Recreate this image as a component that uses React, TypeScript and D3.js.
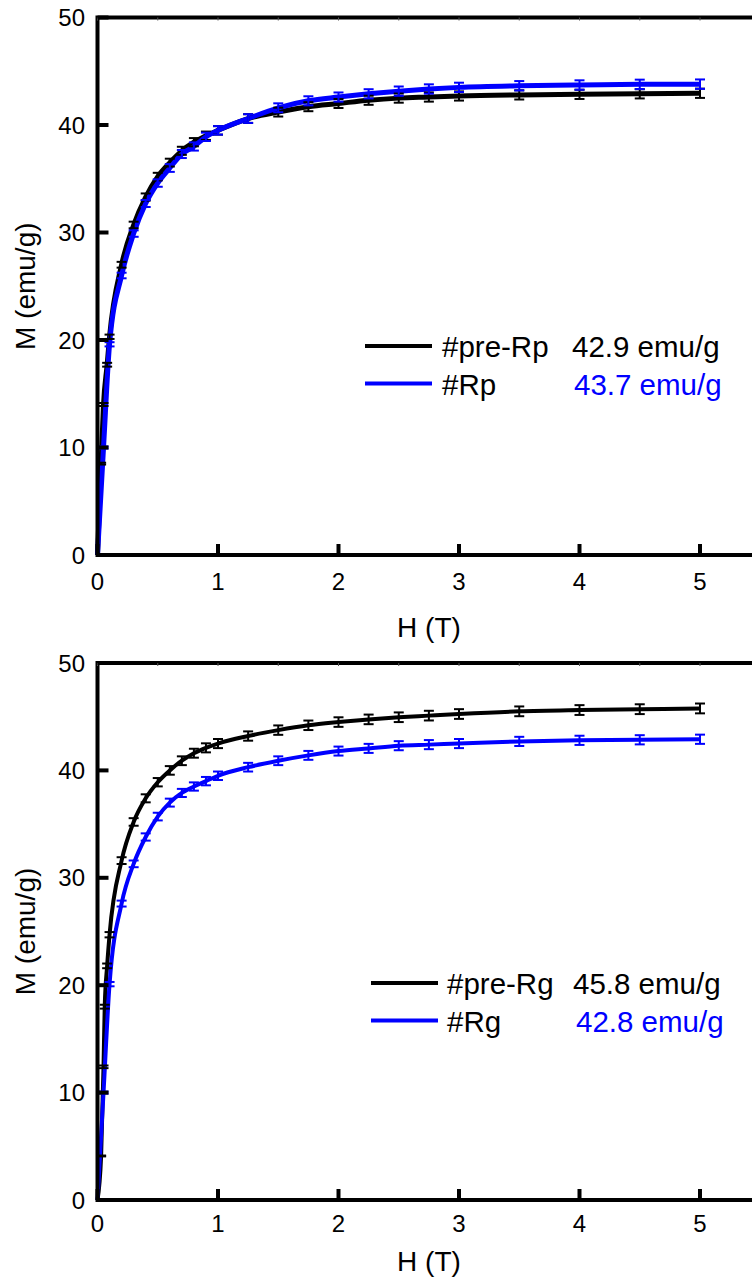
import React from 'react'
import * as d3 from 'd3'

// field (T) and magnetisation (emu/g)
const hPreRp = [0, 0.03, 0.05, 0.08, 0.1, 0.2, 0.3, 0.4, 0.5, 0.6, 0.7, 0.8, 0.9, 1.0, 1.25, 1.5, 1.75, 2.0, 2.25, 2.5, 2.75, 3.0, 3.5, 4.0, 4.5, 5.0]
const mPreRp = [0, 8.5, 14.0, 17.7, 20.3, 27.0, 30.7, 33.3, 35.2, 36.5, 37.6, 38.4, 39.0, 39.5, 40.6, 41.2, 41.7, 42.0, 42.3, 42.5, 42.6, 42.7, 42.8, 42.85, 42.9, 42.95]

const hRp = [0, 0.05, 0.1, 0.2, 0.3, 0.4, 0.5, 0.6, 0.7, 0.8, 0.9, 1.0, 1.25, 1.5, 1.75, 2.0, 2.25, 2.5, 2.75, 3.0, 3.5, 4.0, 4.5, 5.0]
const mRp = [0, 10.0, 19.6, 26.0, 29.9, 32.7, 34.6, 36.0, 37.3, 38.0, 38.9, 39.5, 40.6, 41.6, 42.25, 42.6, 42.9, 43.15, 43.35, 43.5, 43.65, 43.72, 43.78, 43.8]

const hPreRg = [0, 0.03, 0.05, 0.06, 0.08, 0.1, 0.2, 0.3, 0.4, 0.5, 0.6, 0.7, 0.8, 0.9, 1.0, 1.25, 1.5, 1.75, 2.0, 2.25, 2.5, 2.75, 3.0, 3.5, 4.0, 4.5, 5.0]
const mPreRg = [0, 4.1, 12.4, 18.0, 21.8, 24.7, 31.6, 35.2, 37.4, 38.9, 40.0, 40.9, 41.6, 42.1, 42.5, 43.2, 43.75, 44.2, 44.5, 44.75, 44.95, 45.1, 45.25, 45.5, 45.62, 45.7, 45.77]

const hRg = [0, 0.05, 0.1, 0.2, 0.3, 0.4, 0.5, 0.6, 0.7, 0.8, 0.9, 1.0, 1.25, 1.5, 1.75, 2.0, 2.25, 2.5, 2.75, 3.0, 3.5, 4.0, 4.5, 5.0]
const mRg = [0, 10.0, 20.1, 27.6, 31.3, 33.8, 35.7, 37.0, 37.9, 38.5, 39.0, 39.5, 40.3, 40.9, 41.4, 41.8, 42.05, 42.3, 42.4, 42.5, 42.7, 42.8, 42.85, 42.9]

const xTicks = [0, 1, 2, 3, 4, 5]
const xMinor = [0.5, 1.5, 2.5, 3.5, 4.5, 5.5]
const yTicks = [0, 10, 20, 30, 40, 50]
const errFrac = 0.01

const font = '"Liberation Sans", Arial, sans-serif'
const BLUE = '#0000ff'

type Series = { h: number[], m: number[], color: string, name: string, value: string }

type PanelProps = {
  top: number,
  bottom: number,
  series: Series[],
  lineWidth: number,
  legend: { x: number, y: number, nameX: number, valueX: number[] },
  tickY: number,
  titleY: number
}

function Panel({ top, bottom, series, lineWidth, legend, tickY, titleY }: PanelProps) {
  const x = d3.scaleLinear().domain([0, 5.5]).range([97.5, 97.5 + 5.5 * 120.5])
  const y = d3.scaleLinear().domain([0, 50]).range([bottom, top])

  const [x0, x1] = x.range()
  return (
    <g>
      {series.map((s) => {
        const path = d3.line<number>()
          .x((_, i) => x(s.h[i]))
          .y((d) => y(d))
          .curve(d3.curveMonotoneX)(s.m)
        return <path key={s.name} d={path || ''} fill="none" stroke={s.color} strokeWidth={lineWidth} strokeLinejoin="round" />
      })}
      {series.map((s) => (
        <g key={s.name + '-err'} stroke={s.color} strokeWidth={2}>
          {s.m.map((m, i) => {
            if (m === 0) return null
            const cx = x(s.h[i])
            const e = m * errFrac
            const yt = y(m + e), yb = y(m - e)
            return (
              <g key={i}>
                <line x1={cx} x2={cx} y1={yt} y2={yb} />
                <line x1={cx - 5} x2={cx + 5} y1={yt} y2={yt} />
                <line x1={cx - 5} x2={cx + 5} y1={yb} y2={yb} />
              </g>
            )
          })}
        </g>
      ))}
      {/* frame, right edge falls outside the page */}
      <rect x={x0} y={top} width={x1 - x0} height={bottom - top} fill="none" stroke="#000" strokeWidth={4} />
      {xTicks.map((t) => (
        <line key={'xt' + t} x1={x(t)} x2={x(t)} y1={bottom} y2={bottom - 11} stroke="#000" strokeWidth={4} />
      ))}
      {xTicks.concat(xMinor).map((t) => (
        <line key={'xtt' + t} x1={x(t)} x2={x(t)} y1={top} y2={top + 3} stroke="#555" strokeWidth={1} />
      ))}
      {yTicks.map((t) => (
        <line key={'yt' + t} x1={x0} x2={x0 + 11} y1={y(t)} y2={y(t)} stroke="#000" strokeWidth={4} />
      ))}
      <g fontFamily={font} fontSize={24} fill="#000">
        {xTicks.map((t) => (
          <text key={'xl' + t} x={x(t)} y={tickY} textAnchor="middle">{t}</text>
        ))}
        {yTicks.map((t) => (
          <text key={'yl' + t} x={85} y={y(t)} dy="0.36em" textAnchor="end">{t}</text>
        ))}
      </g>
      <g fontFamily={font} fontSize={28} fill="#000">
        <text x={429} y={titleY} textAnchor="middle">H (T)</text>
        <text transform={`translate(35,${(top + bottom) / 2}) rotate(-90)`} textAnchor="middle">M (emu/g)</text>
      </g>
      <g fontFamily={font} fontSize={29.5}>
        {series.map((s, i) => {
          const ly = legend.y + i * 37.5
          return (
            <g key={s.name + '-leg'}>
              <line x1={legend.x} x2={legend.x + 67} y1={ly} y2={ly} stroke={s.color} strokeWidth={4} />
              <text x={legend.nameX} y={ly + 11} fill="#000">{s.name}</text>
              <text x={legend.valueX[i]} y={ly + 11} fill={s.color}>{s.value}</text>
            </g>
          )
        })}
      </g>
    </g>
  )
}

export default function App() {
  const topSeries: Series[] = [
    { h: hPreRp, m: mPreRp, color: '#000', name: '#pre-Rp', value: '42.9 emu/g' },
    { h: hRp, m: mRp, color: BLUE, name: '#Rp', value: '43.7 emu/g' }
  ]
  const bottomSeries: Series[] = [
    { h: hPreRg, m: mPreRg, color: '#000', name: '#pre-Rg', value: '45.8 emu/g' },
    { h: hRg, m: mRg, color: BLUE, name: '#Rg', value: '42.8 emu/g' }
  ]
  return (
    <svg width={752} height={1278} style={{ position: 'absolute', left: 0, top: 0, background: '#fff' }}>
      <Panel top={17.5} bottom={555} series={topSeries} lineWidth={5}
        legend={{ x: 365, y: 346, nameX: 442, valueX: [572, 574] }} tickY={590} titleY={637} />
      <Panel top={663} bottom={1200} series={bottomSeries} lineWidth={4}
        legend={{ x: 371, y: 983, nameX: 447, valueX: [573, 576] }} tickY={1232} titleY={1271} />
    </svg>
  )
}
